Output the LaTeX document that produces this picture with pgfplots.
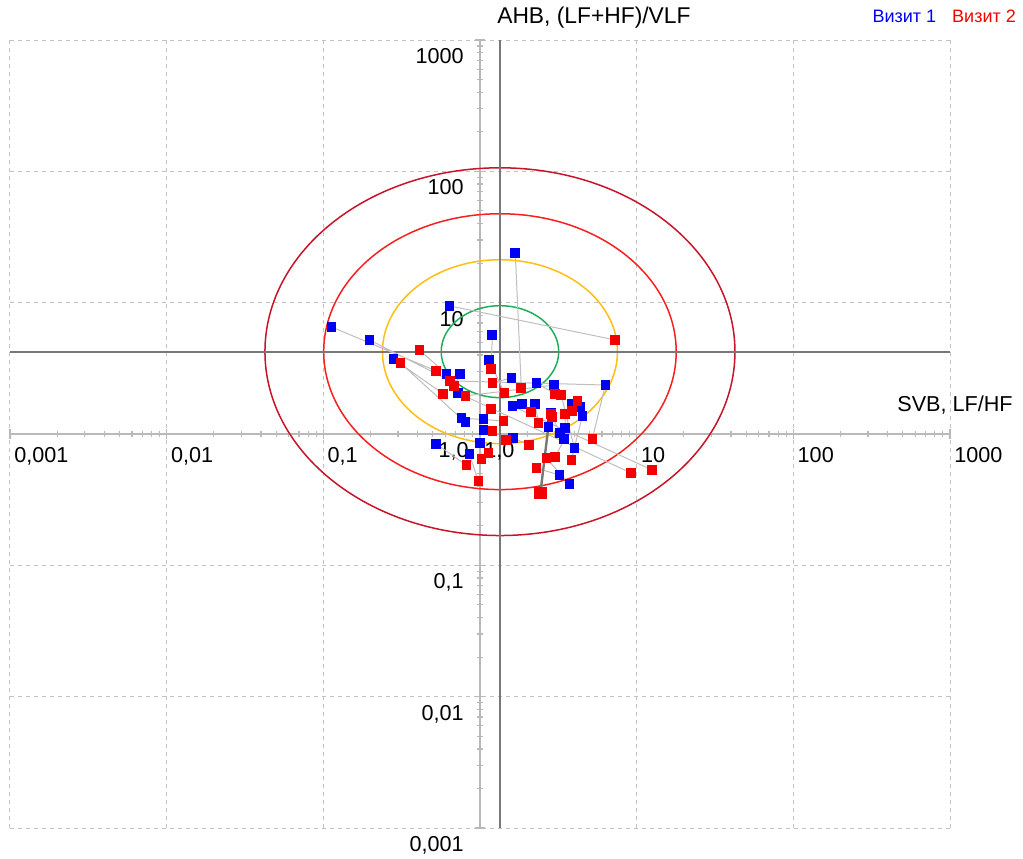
\documentclass[border=0pt]{standalone}
\usepackage{fontspec}
\setmainfont{Liberation Sans}
\usepackage{pgfplots}
\pgfplotsset{compat=1.18}
\definecolor{ellgreen}{RGB}{30,175,90}
\definecolor{ellorange}{RGB}{255,190,20}
\definecolor{ellred}{RGB}{250,30,30}
\definecolor{elldark}{RGB}{200,20,40}
\definecolor{crossgray}{RGB}{120,120,120}
\definecolor{axgray}{RGB}{185,185,185}
\definecolor{gridgray}{RGB}{195,195,195}
\definecolor{lnkgray}{RGB}{190,190,190}
\definecolor{vblue}{RGB}{0,0,245}
\definecolor{vred}{RGB}{245,0,0}
\begin{document}
\begin{tikzpicture}
\begin{axis}[
  scale only axis, width=470pt, height=394pt,
  xmode=log, ymode=log,
  xmin=0.001, xmax=1000, ymin=0.001, ymax=1000,
  axis lines=middle,
  axis line style={-, draw=axgray, line width=0.75pt},
  xtick={0.001,0.01,0.1,1,10,100,1000},
  ytick={0.001,0.01,0.1,1,10,100,1000},
  minor xtick={}, minor ytick={},
  xticklabels={{0,001},{0,01},{0,1},{1,0},10,100,1000},
  yticklabels={{0,001},{0,01},{0,1},{1,0},10,100,1000},
  grid=major,
  major grid style={draw=gridgray, line width=0.5pt, dash pattern=on 2pt off 2pt},
  tick style={draw=axgray, line width=0.6pt},
  major tick length=5pt,
  tick align=center,
  tick label style={font=\fontsize{10.8}{13}\selectfont},
  xticklabel style={anchor=north west, xshift=2pt, yshift=-4pt, inner sep=0pt},
  yticklabel style={anchor=north east, xshift=-5.5pt, yshift=-4pt, inner sep=0pt},
  xlabel={SVB, LF/HF},
  ylabel={АНВ, (LF+HF)/VLF},
  label style={font=\fontsize{10.8}{13}\selectfont},
  x label style={at={(rel axis cs:1.067,0.537)}, anchor=east, inner sep=0pt},
  y label style={at={(rel axis cs:0.518,1.028)}, anchor=west, rotate=0, inner sep=0pt, font=\fontsize{11.4}{13}\selectfont},
  unbounded coords=jump,
  legend columns=2,
  legend style={at={(rel axis cs:0.913,1.028)}, anchor=west, draw=none, fill=none,
    font=\fontsize{9}{11}\selectfont, inner sep=0pt,
    /tikz/every even column/.append style={column sep=4pt}},
]
% zone ellipses
\draw[ellgreen, line width=0.75pt] (axis cs:1.341,4.236) ellipse [x radius=29.375pt, y radius=22.98pt];
\draw[ellorange, line width=0.75pt] (axis cs:1.341,4.236) ellipse [x radius=58.75pt, y radius=45.97pt];
\draw[ellred, line width=0.75pt] (axis cs:1.341,4.236) ellipse [x radius=88.125pt, y radius=68.95pt];
\draw[elldark, line width=0.75pt] (axis cs:1.341,4.236) ellipse [x radius=117.5pt, y radius=91.93pt];
% centre cross
\draw[crossgray, line width=0.9pt] (axis cs:1.341,0.001) -- (axis cs:1.341,1000);
\draw[crossgray, line width=0.9pt] (axis cs:0.001,4.236) -- (axis cs:1000,4.236);
% tick labels at the crossing of the axes
\node[anchor=north west, xshift=2pt, yshift=-4pt, inner sep=0pt, font=\fontsize{10.8}{13}\selectfont] at (axis cs:1,1) {1,0};
\node[anchor=north east, xshift=-5.5pt, yshift=-4pt, inner sep=0pt, font=\fontsize{10.8}{13}\selectfont] at (axis cs:1,1) {1,0};
% links between visits
\addplot[lnkgray, line width=0.5pt, forget plot] table {
x y
1.68 24.0
1.835 2.24
nan nan
0.637 9.46
7.30 5.20
nan nan
0.1125 6.54
0.526 3.02
nan nan
0.197 5.2
0.646 2.54
nan nan
0.280 3.73
0.583 2.02
nan nan
1.198 5.69
1.18 3.13
nan nan
1.146 3.66
1.43 2.05
nan nan
0.610 2.87
0.410 4.37
nan nan
0.748 2.87
0.685 2.32
nan nan
0.727 2.05
9.24 0.504
nan nan
1.585 2.67
1.20 2.45
nan nan
2.29 2.45
3.02 2.02
nan nan
2.98 2.36
0.806 1.95
nan nan
6.31 2.36
5.21 0.916
nan nan
6.31 2.36
0.646 2.54
nan nan
1.86 1.69
2.12 1.47
nan nan
2.25 1.69
2.36 1.21
nan nan
3.83 1.69
4.18 1.785
nan nan
4.37 1.61
3.88 1.50
nan nan
4.50 1.37
3.83 0.634
nan nan
2.85 1.45
2.85 1.42
nan nan
1.61 1.63
12.58 0.532
nan nan
3.50 1.11
3.50 1.42
nan nan
3.25 1.02
2.89 1.35
nan nan
3.45 0.916
3.02 0.668
nan nan
4.00 0.782
3.30 1.98
nan nan
3.21 0.487
2.29 0.551
nan nan
3.72 0.416
2.65 0.656
nan nan
0.760 1.32
1.41 1.26
nan nan
0.806 1.23
0.310 3.48
nan nan
1.05 1.30
1.18 1.55
nan nan
1.05 1.07
1.20 1.05
nan nan
1.00 0.854
1.02 0.645
nan nan
0.526 0.839
0.818 0.580
nan nan
0.855 0.704
0.976 0.438
nan nan
1.63 0.932
2.06 0.824
nan nan
1.00 0.854
1.13 0.717
nan nan
1.63 0.932
1.47 0.90
};
\addplot[crossgray, line width=1.2pt, forget plot] table {
x y
2.73 1.13
2.43 0.355
};
% Visit 1
\addplot[only marks, mark=square*, mark size=2.2pt, color=vblue,
  legend image code/.code={}] table {
x y
1.68 24.0
0.637 9.46
0.1125 6.54
0.197 5.2
0.280 3.73
1.198 5.69
1.146 3.66
0.610 2.87
0.748 2.87
0.727 2.05
1.585 2.67
2.29 2.45
2.98 2.36
6.31 2.36
1.86 1.69
2.25 1.69
3.83 1.69
4.37 1.61
4.50 1.37
2.85 1.45
1.61 1.63
2.73 1.13
3.50 1.11
3.25 1.02
3.45 0.916
4.00 0.782
3.21 0.487
3.72 0.416
0.760 1.32
0.806 1.23
1.05 1.30
1.05 1.07
1.00 0.854
0.526 0.839
0.855 0.704
1.63 0.932
};
\addlegendentry{\textcolor{vblue}{Визит 1}}
% Visit 2
\addplot[only marks, mark=square*, mark size=2.2pt, color=vred,
  legend image code/.code={}] table {
x y
7.30 5.20
0.410 4.37
0.310 3.48
0.526 3.02
1.18 3.13
1.20 2.45
0.646 2.54
0.685 2.32
0.583 2.02
0.806 1.95
1.43 2.05
1.835 2.24
3.02 2.02
3.30 1.98
4.18 1.785
2.12 1.47
2.85 1.42
3.50 1.42
3.88 1.50
1.41 1.26
2.36 1.21
2.89 1.35
1.47 0.90
2.06 0.824
5.21 0.916
2.65 0.656
3.02 0.668
3.83 0.634
2.29 0.551
9.24 0.504
12.58 0.532
1.20 1.05
1.13 0.717
1.02 0.645
0.818 0.580
0.976 0.438
1.18 1.55
};
\addlegendentry{\textcolor{vred}{Визит 2}}
\addplot[only marks, mark=square*, mark size=2.8pt, color=vred, forget plot] table {
x y
2.43 0.355
};
\end{axis}
\pgfresetboundingbox
\path[use as bounding box] ([shift={(-5pt,-15pt)}]current axis.south west) rectangle ([shift={(36.5pt,20pt)}]current axis.north east);
\end{tikzpicture}
\end{document}
